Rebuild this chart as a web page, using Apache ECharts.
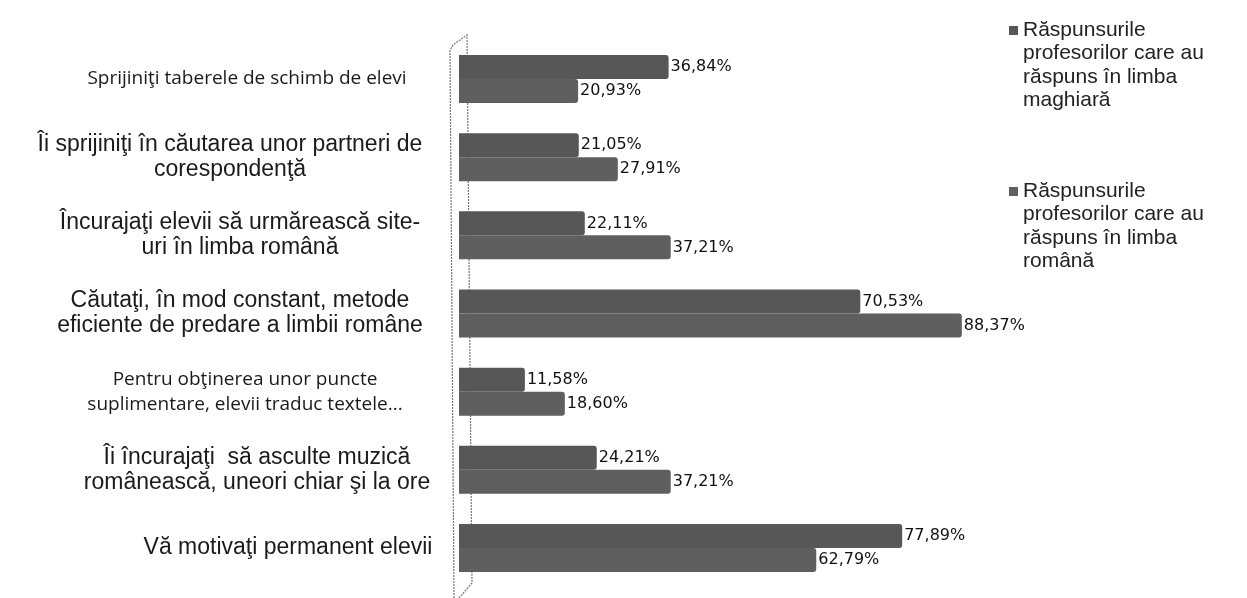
<!DOCTYPE html>
<html>
<head>
<meta charset="utf-8">
<script src="https://cdn.jsdelivr.net/npm/echarts@6/dist/echarts.min.js"></script>
<style>
  html, body { margin: 0; padding: 0; background: #ffffff; }
  #chart { width: 1247px; height: 598px; }
</style>
</head>
<body>
<div id="chart"></div>
<script>
// Survey answers, one row per statement (top to bottom)
var categories = [
  'Sprijiniţi taberele de schimb de elevi',
  'Îi sprijiniţi în căutarea unor partneri de\ncorespondenţă',
  'Încurajaţi elevii să urmărească site-\nuri în limba română',
  'Căutaţi, în mod constant, metode\neficiente de predare a limbii române',
  'Pentru obţinerea unor puncte\nsuplimentare, elevii traduc textele...',
  'Îi încurajaţi  să asculte muzică\nromânească, uneori chiar şi la ore',
  'Vă motivaţi permanent elevii'
];

var seriesNames = [
  'Răspunsurile\nprofesorilor care au\nrăspuns în limba\nmaghiară',
  'Răspunsurile\nprofesorilor care au\nrăspuns în limba\nromână'
];

// Percentages of teachers answering in Hungarian
var valuesMaghiara = [36.84, 21.05, 22.11, 70.53, 11.58, 24.21, 77.89];
// Percentages of teachers answering in Romanian
var valuesRomana = [20.93, 27.91, 37.21, 88.37, 18.60, 37.21, 62.79];

var chart = echarts.init(document.getElementById('chart'), null, { renderer: 'canvas' });

// Some statements use a narrower humanist face, as in the original document
var humanist = { 0: true, 4: true };
// horizontal nudges of the centred category captions
var captionPad = [[0, 0, 0, 14], [0, 20, 0, 0], [0, 0, 0, 0], [0, 0, 0, 0], [0, 0, 0, 10], [0, 0, 0, 34], [0, 0, 0, 96]];

var yData = categories.map(function (c, i) {
  var ts = { align: 'center', padding: captionPad[i] };
  if (humanist[i]) {
    ts.fontFamily = '"Open Sans", "Noto Sans", sans-serif';
    ts.fontSize = 19;
  }
  return { value: c, textStyle: ts };
});

function pct(p) {
  return p.value.toFixed(2).replace('.', ',') + '%';
}

var barLabel = {
  show: true,
  position: 'right',
  distance: 2,
  color: '#111',
  fontFamily: '"DejaVu Sans", sans-serif',
  fontSize: 16,
  formatter: pct
};

chart.setOption({
  animation: false,
  backgroundColor: '#ffffff',
  grid: { left: 459, top: 40, width: 569, height: 547, containLabel: false, outerBoundsMode: 'none' },
  legend: {
    orient: 'vertical',
    left: 1004,
    top: 13,
    itemGap: 67,
    itemWidth: 9,
    itemHeight: 94,
    icon: 'path://M0,8h9v9h-9zM0,0h0.01v0.01h-0.01zM0,94h0.01v0.01h-0.01z',
    textStyle: {
      fontFamily: '"Liberation Sans", Arial, sans-serif',
      fontSize: 21,
      lineHeight: 23.5,
      color: '#222'
    },
    data: seriesNames
  },
  xAxis: {
    type: 'value',
    min: 0,
    max: 100,
    show: false
  },
  yAxis: {
    type: 'category',
    inverse: true,
    data: yData,
    axisLine: { show: false },
    axisTick: { show: false },
    axisLabel: {
      interval: 0,
      margin: 219,
      fontFamily: '"Liberation Sans", Arial, sans-serif',
      fontSize: 23,
      lineHeight: 25,
      color: '#1a1a1a'
    }
  },
  series: [
    {
      name: seriesNames[0],
      type: 'bar',
      data: valuesMaghiara,
      barWidth: 24,
      barGap: '0%',
      itemStyle: { color: '#575757', borderRadius: [0, 3, 3, 0] },
      label: barLabel
    },
    {
      name: seriesNames[1],
      type: 'bar',
      data: valuesRomana,
      barWidth: 24,
      barGap: '0%',
      itemStyle: { color: '#5f5f5f', borderRadius: [0, 3, 3, 0] },
      label: barLabel
    }
  ],
  // thin back wall of the 3-D plot area
  graphic: [
    {
      type: 'polyline',
      z: -1,
      shape: { points: [[454, 598], [450, 50], [453, 45], [467, 35], [472, 583], [459, 598]] },
      style: { stroke: '#777', lineWidth: 1.2, fill: null, lineDash: [2, 1] }
    }
  ]
});
</script>
</body>
</html>
